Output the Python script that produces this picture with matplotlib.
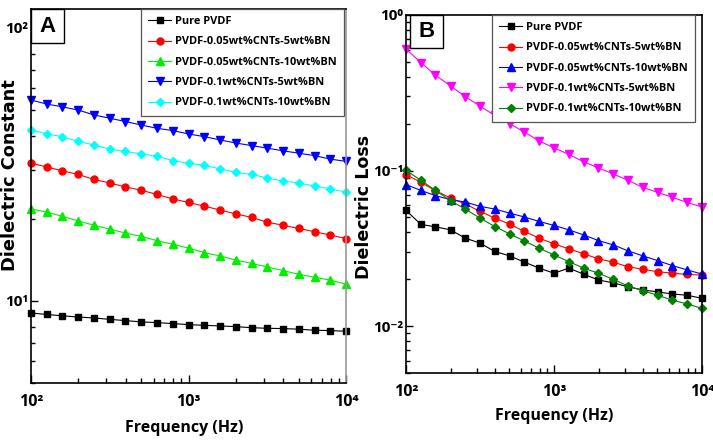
import matplotlib
matplotlib.use("Agg")
import matplotlib.pyplot as plt
from matplotlib.patches import Rectangle
from matplotlib.ticker import LogLocator, FuncFormatter, NullFormatter
from matplotlib.font_manager import FontProperties
import math

plt.rcParams['font.family'] = ['Open Sans', 'DejaVu Sans']
plt.rcParams['font.stretch'] = 'condensed'
plt.rcParams['font.weight'] = 'bold'


def nfont(size):
    return FontProperties(family=['Open Sans', 'DejaVu Sans'], weight='bold',
                          stretch='condensed', size=size)


freq = [100, 126, 158, 200, 251, 316, 398, 501, 631, 794, 1000,
        1259, 1585, 1995, 2512, 3162, 3981, 5012, 6310, 7943, 10000]

# Panel A: dielectric constant
labels_a = ["Pure PVDF", "PVDF-0.05wt%CNTs-5wt%BN", "PVDF-0.05wt%CNTs-10wt%BN",
            "PVDF-0.1wt%CNTs-5wt%BN", "PVDF-0.1wt%CNTs-10wt%BN"]
a_pure = [9.02, 8.91, 8.81, 8.72, 8.65, 8.55, 8.46, 8.37, 8.32, 8.25, 8.18,
          8.13, 8.09, 8.04, 7.97, 7.93, 7.91, 7.87, 7.80, 7.78, 7.73]
a_005_5 = [31.9, 30.9, 29.9, 29.0, 27.8, 27.0, 26.1, 25.4, 24.5, 23.6, 22.9,
           22.2, 21.5, 20.8, 20.2, 19.4, 18.9, 18.4, 17.9, 17.4, 16.9]
a_005_10 = [21.7, 21.1, 20.4, 19.6, 18.9, 18.3, 17.7, 17.2, 16.6, 16.1, 15.6,
            15.0, 14.6, 14.1, 13.7, 13.3, 12.9, 12.5, 12.2, 11.9, 11.5]
a_01_5 = [54.3, 52.5, 51.3, 49.9, 47.9, 46.6, 45.3, 44.0, 42.8, 42.0, 40.8,
          39.9, 38.8, 37.8, 37.0, 36.2, 35.4, 34.7, 34.0, 33.0, 32.4]
a_01_10 = [42.2, 40.8, 39.9, 38.3, 37.2, 35.9, 35.2, 34.5, 33.8, 32.6, 31.9,
           31.3, 30.4, 29.5, 29.0, 28.2, 27.4, 27.0, 26.3, 25.7, 25.0]

# Panel B: dielectric loss
labels_b = ["Pure PVDF", "PVDF-0.05wt%CNTs-5wt%BN", "PVDF-0.05wt%CNTs-10wt%BN",
            "PVDF-0.1wt%CNTs-5wt%BN", "PVDF-0.1wt%CNTs-10wt%BN"]
b_pure = [0.0555, 0.0451, 0.0435, 0.0416, 0.0368, 0.0342, 0.0302, 0.0283, 0.0258, 0.0236, 0.0219,
          0.0236, 0.0216, 0.0198, 0.0190, 0.0179, 0.0171, 0.0166, 0.0161, 0.0158, 0.0151]
b_005_5 = [0.0942, 0.0841, 0.0743, 0.0667, 0.0610, 0.0547, 0.0495, 0.0453, 0.0406, 0.0368, 0.0338,
           0.0314, 0.0292, 0.0271, 0.0258, 0.0241, 0.0232, 0.0224, 0.0219, 0.0215, 0.0213]
b_005_10 = [0.0812, 0.0746, 0.0690, 0.0650, 0.0628, 0.0589, 0.0566, 0.0533, 0.0503, 0.0471, 0.0444,
            0.0416, 0.0386, 0.0355, 0.0333, 0.0305, 0.0283, 0.0264, 0.0245, 0.0230, 0.0216]
b_01_5 = [0.604, 0.495, 0.410, 0.350, 0.299, 0.260, 0.226, 0.200, 0.177, 0.155, 0.140,
          0.127, 0.114, 0.104, 0.0952, 0.0866, 0.0780, 0.0724, 0.0673, 0.0624, 0.0583]
b_01_10 = [0.1004, 0.0866, 0.0746, 0.0640, 0.0566, 0.0495, 0.0437, 0.0392, 0.0353, 0.0317, 0.0287,
           0.0260, 0.0236, 0.0219, 0.0200, 0.0181, 0.0169, 0.0158, 0.0147, 0.0139, 0.0130]

series_a = [a_pure, a_005_5, a_005_10, a_01_5, a_01_10]
series_b = [b_pure, b_005_5, b_005_10, b_01_5, b_01_10]
colors_a = ['#000000', '#ff0000', '#00ee00', '#0000ff', '#00ffff']
colors_b = ['#000000', '#ff0000', '#0000ff', '#ff00ff', '#008000']
markers_a = ['s', 'o', '^', 'v', 'D']
markers_b = ['s', 'o', '^', 'v', 'D']
msize = {'s': 4.5, 'o': 5, '^': 5.5, 'v': 5.5, 'D': 4.5}

W, H = 713, 447
fig = plt.figure(figsize=(W / 100, H / 100), dpi=100)


def px_axes(l, t, r, b):
    return fig.add_axes([l / W, 1 - b / H, (r - l) / W, (b - t) / H])


axA = px_axes(31, 9, 346, 383)
axB = px_axes(406, 15, 702, 373)

SUP = str.maketrans('-0123456789', '⁻⁰¹²³⁴⁵⁶⁷⁸⁹')


def fmt(v, pos):
    if v <= 0:
        return ''
    e = int(round(math.log10(v)))
    if abs(math.log10(v) - e) > 1e-6:
        return ''
    return '10' + str(e).translate(SUP)


def style(ax, ylim):
    ax.set_xscale('log')
    ax.set_yscale('log')
    ax.set_xlim(100, 10000)
    ax.set_ylim(*ylim)
    ax.xaxis.set_major_locator(LogLocator(base=10, numticks=10))
    ax.xaxis.set_minor_locator(LogLocator(base=10, subs=range(2, 10), numticks=20))
    ax.yaxis.set_major_locator(LogLocator(base=10, numticks=10))
    ax.yaxis.set_minor_locator(LogLocator(base=10, subs=range(2, 10), numticks=20))
    ax.xaxis.set_major_formatter(FuncFormatter(fmt))
    ax.yaxis.set_major_formatter(FuncFormatter(fmt))
    ax.xaxis.set_minor_formatter(NullFormatter())
    ax.yaxis.set_minor_formatter(NullFormatter())
    ax.tick_params(which='both', direction='in', top=False, right=False, width=1, colors='black')
    ax.tick_params(axis='x', which='major', length=6, labelsize=11.5, pad=8)
    ax.tick_params(axis='x', which='minor', length=3.5)
    ax.tick_params(axis='y', which='major', length=5, labelsize=11, pad=2)
    ax.tick_params(axis='y', which='minor', length=3)
    for s in ax.spines.values():
        s.set_linewidth(1.2)
        s.set_color('black')


def plot_panel(ax, series, colors, markers, labels):
    for y, c, m, lab in zip(series, colors, markers, labels):
        ax.plot(freq, y, color=c, lw=0.8, marker=m, markersize=msize[m],
                markerfacecolor=c, markeredgecolor=c, label=lab, clip_on=False)


plot_panel(axA, series_a, colors_a, markers_a, labels_a)
plot_panel(axB, series_b, colors_b, markers_b, labels_b)
style(axA, (5, 117))
style(axB, (0.005, 1.0))
axA.spines['right'].set_color('#999999')

for ax, anchor in ((axA, (0.994, 1.0)), (axB, (0.976, 1.0))):
    leg = ax.legend(loc='upper right', bbox_to_anchor=anchor, borderaxespad=0,
                    fancybox=False, frameon=True, edgecolor='#555555',
                    prop=nfont(7.9),
                    handlelength=2.1, handletextpad=0.35, labelspacing=0.85,
                    borderpad=0.65, framealpha=1)
    leg.get_frame().set_linewidth(0.9)
    leg.set_zorder(10)

# panel letters
for ax, (x0, y0, w, h), letter in ((axA, (0.0, 0.909, 0.106, 0.091), 'A'),
                                   (axB, (0.0135, 0.908, 0.112, 0.092), 'B')):
    ax.add_patch(Rectangle((x0, y0), w, h, transform=ax.transAxes, facecolor='white',
                           edgecolor='black', lw=1.0, zorder=11, clip_on=False))
    ax.text(x0 + w / 2, y0 + h / 2, letter, transform=ax.transAxes, ha='center', va='center',
            fontsize=16, fontweight='bold', fontstretch='normal',
            family=['Liberation Sans', 'DejaVu Sans'], zorder=12)

# axis labels
fig.text(10.5 / W, 1 - 175 / H, 'Dielectric Constant', rotation=90, ha='center', va='center',
         fontsize=12.8, fontweight='bold', fontstretch='normal', family='DejaVu Sans')
fig.text(364 / W, 1 - 207 / H, 'Dielectric Loss', rotation=90, ha='center', va='center',
         fontsize=12.6, fontweight='bold', fontstretch='normal', family='DejaVu Sans')
fig.text(184 / W, 1 - 428 / H, 'Frequency (Hz)', ha='center', va='center', fontproperties=nfont(11.5))
fig.text(554 / W, 1 - 416 / H, 'Frequency (Hz)', ha='center', va='center', fontproperties=nfont(11.5))

fig.savefig('out.png', dpi=100)
